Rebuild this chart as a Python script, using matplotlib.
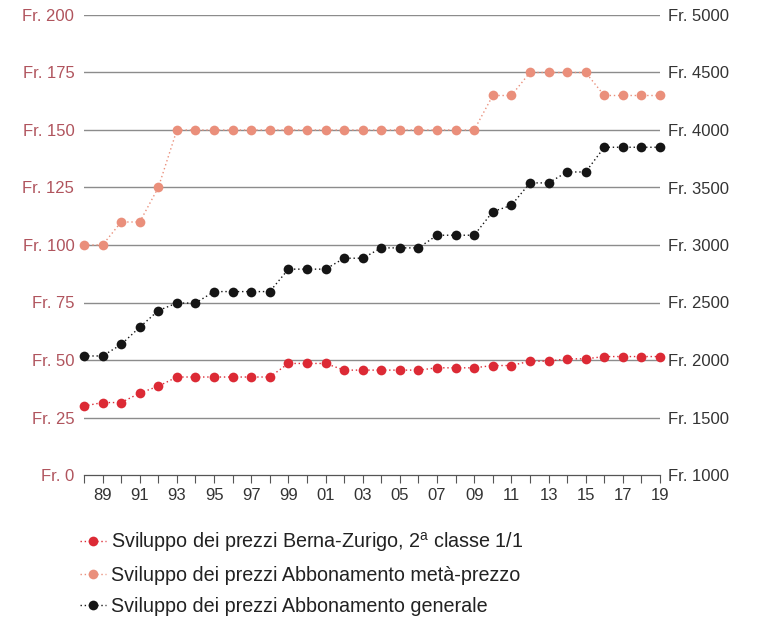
import numpy as np
import matplotlib.pyplot as plt
from matplotlib.lines import Line2D

plt.rcParams['font.family'] = ['Liberation Sans', 'DejaVu Sans']

years = np.arange(1988, 2020)

# Berna-Zurigo 2a classe (left axis, Fr.)
berna_zurigo = [30, 31.5, 31.5, 35.6, 38.6, 42.6, 42.6, 42.6, 42.6, 42.6, 42.6,
                48.5, 48.5, 48.5, 45.6, 45.6, 45.6, 45.6, 45.6, 46.6, 46.6, 46.6,
                47.6, 47.6, 49.5, 49.5, 50.5, 50.5, 51.5, 51.5, 51.5, 51.5]

# Abbonamento metà-prezzo (left axis, Fr.)
meta_prezzo = [100, 100, 110, 110, 125, 150, 150, 150, 150, 150, 150,
               150, 150, 150, 150, 150, 150, 150, 150, 150, 150, 150,
               165, 165, 175, 175, 175, 175, 165, 165, 165, 165]

# Abbonamento generale (right axis, Fr.)
generale = [2035, 2035, 2135, 2285, 2430, 2495, 2495, 2595, 2595, 2595, 2595,
            2790, 2790, 2790, 2885, 2885, 2975, 2975, 2975, 3085, 3085, 3085,
            3290, 3345, 3540, 3540, 3635, 3635, 3850, 3850, 3850, 3850]

left_ticks = [0, 25, 50, 75, 100, 125, 150, 175, 200]
right_ticks = [1000, 1500, 2000, 2500, 3000, 3500, 4000, 4500, 5000]

labels = [
    "Sviluppo dei prezzi Berna-Zurigo, 2$^{\\mathregular{a}}$ classe 1/1",
    "Sviluppo dei prezzi Abbonamento metà-prezzo",
    "Sviluppo dei prezzi Abbonamento generale",
]

RED = "#dc2a35"
PINK = "#ea8f7b"
BLACK = "#151515"
GRID = "#8c8c8c"
LEFT_TXT = "#b0545d"
RIGHT_TXT = "#333333"

fig = plt.figure(figsize=(7.58, 6.19), dpi=100)
ax = fig.add_axes([84 / 758, 1 - 475 / 619, 576 / 758, 460 / 619])
ax2 = ax.twinx()

ax.set_xlim(1988, 2019)
ax.set_ylim(0, 200)
ax2.set_ylim(1000, 5000)

for v in left_ticks[1:]:
    ax.axhline(v, color=GRID, lw=1.0, zorder=0)

ax.plot(years, meta_prezzo, color=PINK, ls=(0, (1, 2)), lw=1.0,
        marker="o", ms=7, mec="none", clip_on=False, zorder=3)
ax.plot(years, berna_zurigo, color=RED, ls=(0, (1, 2)), lw=1.0,
        marker="o", ms=7, mec="none", clip_on=False, zorder=3)
ax2.plot(years, generale, color=BLACK, ls=(0, (1, 2)), lw=1.0,
         marker="o", ms=7, mec="none", clip_on=False, zorder=3)

for a in (ax, ax2):
    for s in ("top", "left", "right"):
        a.spines[s].set_visible(False)
ax2.spines["bottom"].set_visible(False)
ax.spines["bottom"].set_color("#555555")
ax.spines["bottom"].set_linewidth(0.9)

ax.set_yticks(left_ticks)
ax.set_yticklabels([f"Fr. {v}" for v in left_ticks])
ax.tick_params(axis="y", length=0, pad=7, labelsize=12, labelcolor=LEFT_TXT)

ax2.set_yticks(right_ticks)
ax2.set_yticklabels([f"Fr. {v}" for v in right_ticks])
ax2.tick_params(axis="y", length=0, pad=6, labelsize=12, labelcolor=RIGHT_TXT)

ax.set_xticks(years[1::2])
ax.set_xticklabels([f"{y % 100:02d}" for y in years[1::2]])
ax.set_xticks(years, minor=True)
ax.tick_params(axis="x", which="both", direction="out", length=6, width=0.8,
               color="#555555", labelsize=12, labelcolor=RIGHT_TXT, pad=3)

handles = [
    Line2D([], [], color=c, ls=(0, (1, 2)), lw=1.0, marker="o", ms=7, mec="none")
    for c in (RED, PINK, BLACK)
]
fig.legend(handles, labels, loc="upper left", bbox_to_anchor=(72 / 758, 1 - 522 / 619),
           frameon=False, fontsize=14.2, labelcolor="#222222", handlelength=1.3,
           handletextpad=0.3, labelspacing=0.6, borderaxespad=0)

fig.savefig("out.png", dpi=100)
